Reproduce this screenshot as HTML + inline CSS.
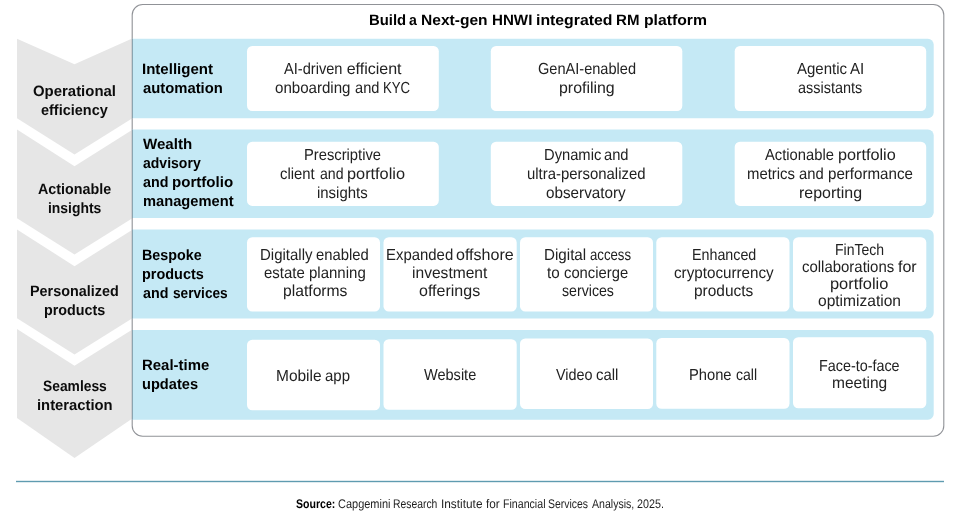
<!DOCTYPE html>
<html lang="en">
<head>
<meta charset="utf-8">
<title>Build a Next-gen HNWI integrated RM platform</title>
<style>
html,body{margin:0;padding:0;background:#fff;}
body{width:960px;height:517px;position:relative;overflow:hidden;font-family:"Liberation Sans",sans-serif;}
svg.bg{position:absolute;left:0;top:0;}
main{position:absolute;left:0;top:0;width:960px;height:517px;will-change:transform;text-rendering:geometricPrecision;}
h1,p{margin:0;font-weight:normal;font-size:inherit;}
.l{position:absolute;white-space:nowrap;line-height:18px;transform-origin:0 13px;}
.b{font-weight:bold;font-size:15px;color:#000;}
.c{color:#0c0c0c;}
.r{font-size:16px;color:#222;}
.s{position:absolute;white-space:nowrap;font-size:12.5px;line-height:14px;color:#1e1e1e;transform-origin:0 11px;}
.sb{font-weight:bold;color:#000;}
</style>
</head>
<body>
<svg class="bg" width="960" height="517" viewBox="0 0 960 517">
<g fill="#e6e6e6"><polygon points="17,38.7 74.5,64.3 131.6,38.7 131.6,118.7 74.5,154.4 17,118.3"/><polygon points="17,129.5 74.5,166.2 131.6,130.3 131.6,218.7 74.5,254.5 17,218.3"/><polygon points="17,229.5 74.5,266.2 131.6,230.3 131.6,318.8 74.5,354.5 17,318.3"/><polygon points="17,328.9 74.5,365.8 131.6,330.0 131.6,418.9 74.5,458.0 17,417.9"/></g>
<rect x="132.2" y="4.45" width="811.6" height="431.85" rx="10.5" ry="10.5" fill="none" stroke="#909297" stroke-width="1.1"/>
<g fill="#c5e9f5">
<path d="M132,38.75 H927.9 a5.8,5.8 0 0 1 5.8,5.8 V112.5 a5.8,5.8 0 0 1 -5.8,5.8 H132 Z"/>
<path d="M132,129.6 H927.9 a5.8,5.8 0 0 1 5.8,5.8 V212.3 a5.8,5.8 0 0 1 -5.8,5.8 H132 Z"/>
<path d="M132,229.4 H927.9 a5.8,5.8 0 0 1 5.8,5.8 V312.8 a5.8,5.8 0 0 1 -5.8,5.8 H132 Z"/>
<path d="M132,330 H927.9 a5.8,5.8 0 0 1 5.8,5.8 V413.9 a5.8,5.8 0 0 1 -5.8,5.8 H132 Z"/>
</g>
<g fill="#768e9a"><rect x="132" y="38.75" width="0.75" height="79.5"/><rect x="132" y="129.6" width="0.75" height="88.5"/><rect x="132" y="229.4" width="0.75" height="89.2"/><rect x="132" y="330" width="0.75" height="89.7"/></g>
<g fill="#fff">
<rect x="247" y="45.9" width="191.8" height="65.1" rx="5.3" ry="5.3"/>
<rect x="490.8" y="45.9" width="191.5" height="65.1" rx="5.3" ry="5.3"/>
<rect x="734.7" y="45.9" width="191.5" height="65.1" rx="5.3" ry="5.3"/>
<rect x="247" y="141.7" width="191.8" height="64.2" rx="5.3" ry="5.3"/>
<rect x="490.8" y="141.7" width="191.5" height="64.2" rx="5.3" ry="5.3"/>
<rect x="734.7" y="141.7" width="191.5" height="64.2" rx="5.3" ry="5.3"/>
<rect x="247" y="237.2" width="133.0" height="74.4" rx="5.3" ry="5.3"/>
<rect x="383.5" y="237.2" width="133.2" height="74.4" rx="5.3" ry="5.3"/>
<rect x="520" y="237.2" width="133.0" height="74.4" rx="5.3" ry="5.3"/>
<rect x="656.3" y="237.2" width="133.2" height="74.4" rx="5.3" ry="5.3"/>
<rect x="793" y="237.2" width="133.3" height="74.4" rx="5.3" ry="5.3"/>
<rect x="247" y="339.8" width="133.0" height="70.4" rx="5.3" ry="5.3"/>
<rect x="383.5" y="339.2" width="133.2" height="70.5" rx="5.3" ry="5.3"/>
<rect x="520" y="338.5" width="133.0" height="70.5" rx="5.3" ry="5.3"/>
<rect x="656.3" y="338" width="133.2" height="70.8" rx="5.3" ry="5.3"/>
<rect x="793" y="337.3" width="133.3" height="70.9" rx="5.3" ry="5.3"/>
</g>
<rect x="16" y="480.8" width="928" height="1.4" fill="#5f9bb0"/>
</svg>
<main>
<h1 class="ttl"><span class="l b" style="left:369.05px;top:12px;transform:scaleX(0.9900)">Build</span> <span class="l b" style="left:409.11px;top:12px;transform:scaleX(0.9400)">a</span> <span class="l b" style="left:421.27px;top:12px;transform:scaleX(1.0372)">Next-gen</span> <span class="l b" style="left:492.43px;top:12px;transform:scaleX(1.0087)">HNWI</span> <span class="l b" style="left:536.06px;top:12px;transform:scaleX(1.0544)">integrated</span> <span class="l b" style="left:616.27px;top:12px;transform:scaleX(1.0043)">RM</span> <span class="l b" style="left:643.65px;top:12px;transform:scaleX(1.0499)">platform</span></h1>
<div class="chevs">
<div class="chev"><div class="l b c" style="left:33.20px;top:83px;transform:scaleX(0.9953)">Operational</div> <div class="l b c" style="left:40.96px;top:102px;transform:scaleX(0.9642)">efficiency</div></div>
<div class="chev"><div class="l b c" style="left:37.79px;top:181px;transform:scaleX(0.9544)">Actionable</div> <div class="l b c" style="left:47.89px;top:200px;transform:scaleX(0.9277)">insights</div></div>
<div class="chev"><div class="l b c" style="left:30.41px;top:283px;transform:scaleX(0.9582)">Personalized</div> <div class="l b c" style="left:43.94px;top:302px;transform:scaleX(0.9551)">products</div></div>
<div class="chev"><div class="l b c" style="left:42.55px;top:378px;transform:scaleX(0.9219)">Seamless</div> <div class="l b c" style="left:36.70px;top:397px;transform:scaleX(0.9864)">interaction</div></div>
</div>
<section class="row">
<div class="lab"><div class="l b" style="left:142.46px;top:61px;transform:scaleX(1.0020)">Intelligent</div> <div class="l b" style="left:143.18px;top:80px;transform:scaleX(0.9877)">automation</div></div>
<div class="box"><div class="ln"><span class="l r" style="left:283.90px;top:61px;transform:scaleX(0.9132)">AI-driven</span> <span class="l r" style="left:346.70px;top:61px;transform:scaleX(1.0000)">efficient</span></div> <div class="ln"><span class="l r" style="left:275.29px;top:80px;transform:scaleX(0.9430)">onboarding</span> <span class="l r" style="left:355.33px;top:80px;transform:scaleX(0.9134)">and</span> <span class="l r" style="left:383.20px;top:80px;transform:scaleX(0.8250)">KYC</span></div></div>
<div class="box"><div class="l r" style="left:537.55px;top:61px;transform:scaleX(0.9105)">GenAI-enabled</div> <div class="l r" style="left:558.70px;top:80px;transform:scaleX(0.9944)">profiling</div></div>
<div class="box"><div class="ln"><span class="l r" style="left:796.93px;top:61px;transform:scaleX(0.9377)">Agentic</span> <span class="l r" style="left:850.12px;top:61px;transform:scaleX(0.9400)">AI</span></div> <div class="l r" style="left:797.82px;top:80px;transform:scaleX(0.9031)">assistants</div></div>
</section>
<section class="row">
<div class="lab"><div class="l b" style="left:143.47px;top:136px;transform:scaleX(1.0047)">Wealth</div> <div class="l b" style="left:143.35px;top:155px;transform:scaleX(0.9348)">advisory</div> <div class="ln"><span class="l b" style="left:143.00px;top:174px;transform:scaleX(0.9531)">and</span> <span class="l b" style="left:171.86px;top:174px;transform:scaleX(1.0053)">portfolio</span></div> <div class="l b" style="left:143.23px;top:193px;transform:scaleX(0.9787)">management</div></div>
<div class="box"><div class="l r" style="left:303.96px;top:147px;transform:scaleX(0.9208)">Prescriptive</div> <div class="ln"><span class="l r" style="left:280.34px;top:166px;transform:scaleX(0.9290)">client</span> <span class="l r" style="left:319.51px;top:166px;transform:scaleX(0.8814)">and</span> <span class="l r" style="left:347.31px;top:166px;transform:scaleX(1.0189)">portfolio</span></div> <div class="l r" style="left:316.93px;top:185px;transform:scaleX(0.9326)">insights</div></div>
<div class="box"><div class="ln"><span class="l r" style="left:544.02px;top:147px;transform:scaleX(0.9203)">Dynamic</span> <span class="l r" style="left:604.29px;top:147px;transform:scaleX(0.9195)">and</span></div> <div class="l r" style="left:527.35px;top:166px;transform:scaleX(0.9320)">ultra-personalized</div> <div class="l r" style="left:546.28px;top:185px;transform:scaleX(0.9527)">observatory</div></div>
<div class="box"><div class="ln"><span class="l r" style="left:765.17px;top:147px;transform:scaleX(0.9218)">Actionable</span> <span class="l r" style="left:838.08px;top:147px;transform:scaleX(1.0139)">portfolio</span></div> <div class="ln"><span class="l r" style="left:747.45px;top:166px;transform:scaleX(0.9304)">metrics</span> <span class="l r" style="left:799.45px;top:166px;transform:scaleX(0.9250)">and</span> <span class="l r" style="left:827.90px;top:166px;transform:scaleX(0.9453)">performance</span></div> <div class="l r" style="left:798.90px;top:185px;transform:scaleX(0.9985)">reporting</div></div>
</section>
<section class="row">
<div class="lab"><div class="l b" style="left:142.46px;top:247px;transform:scaleX(0.9534)">Bespoke</div> <div class="l b" style="left:142.46px;top:266px;transform:scaleX(0.9622)">products</div> <div class="ln"><span class="l b" style="left:143.00px;top:285px;transform:scaleX(0.9531)">and</span> <span class="l b" style="left:172.59px;top:285px;transform:scaleX(0.9105)">services</span></div></div>
<div class="box"><div class="ln"><span class="l r" style="left:260.01px;top:247px;transform:scaleX(0.9366)">Digitally</span> <span class="l r" style="left:315.97px;top:247px;transform:scaleX(0.9270)">enabled</span></div> <div class="ln"><span class="l r" style="left:263.90px;top:265px;transform:scaleX(0.9349)">estate</span> <span class="l r" style="left:308.54px;top:265px;transform:scaleX(0.9376)">planning</span></div> <div class="l r" style="left:282.91px;top:283px;transform:scaleX(0.9796)">platforms</div></div>
<div class="box"><div class="ln"><span class="l r" style="left:385.53px;top:247px;transform:scaleX(0.9321)">Expanded</span> <span class="l r" style="left:456.22px;top:247px;transform:scaleX(1.0035)">offshore</span></div> <div class="l r" style="left:412.19px;top:265px;transform:scaleX(0.9739)">investment</div> <div class="l r" style="left:419.34px;top:283px;transform:scaleX(1.0014)">offerings</div></div>
<div class="box"><div class="ln"><span class="l r" style="left:543.61px;top:247px;transform:scaleX(0.9479)">Digital</span> <span class="l r" style="left:590.40px;top:247px;transform:scaleX(0.8245)">access</span></div> <div class="ln"><span class="l r" style="left:546.91px;top:265px;transform:scaleX(0.9488)">to</span> <span class="l r" style="left:564.22px;top:265px;transform:scaleX(0.9241)">concierge</span></div> <div class="l r" style="left:561.82px;top:283px;transform:scaleX(0.8850)">services</div></div>
<div class="box"><div class="l r" style="left:691.78px;top:247px;transform:scaleX(0.8922)">Enhanced</div> <div class="l r" style="left:673.72px;top:265px;transform:scaleX(0.9503)">cryptocurrency</div> <div class="l r" style="left:694.46px;top:283px;transform:scaleX(0.9652)">products</div></div>
<div class="box"><div class="l r" style="left:834.54px;top:242px;transform:scaleX(0.8756)">FinTech</div> <div class="ln"><span class="l r" style="left:802.02px;top:259px;transform:scaleX(0.9339)">collaborations</span> <span class="l r" style="left:897.89px;top:259px;transform:scaleX(1.0007)">for</span></div> <div class="l r" style="left:830.27px;top:276px;transform:scaleX(1.0250)">portfolio</div> <div class="l r" style="left:818.03px;top:293px;transform:scaleX(0.9720)">optimization</div></div>
</section>
<section class="row">
<div class="lab"><div class="l b" style="left:142.28px;top:357px;transform:scaleX(0.9953)">Real-time</div> <div class="l b" style="left:142.42px;top:376px;transform:scaleX(0.9740)">updates</div></div>
<div class="box"><div class="ln"><span class="l r" style="left:276.27px;top:368px;transform:scaleX(0.9674)">Mobile</span> <span class="l r" style="left:325.22px;top:368px;transform:scaleX(0.9352)">app</span></div></div>
<div class="box"><div class="l r" style="left:423.89px;top:367px;transform:scaleX(0.9081)">Website</div></div>
<div class="box"><div class="ln"><span class="l r" style="left:556.00px;top:367px;transform:scaleX(0.8990)">Video</span> <span class="l r" style="left:595.79px;top:367px;transform:scaleX(0.9350)">call</span></div></div>
<div class="box"><div class="ln"><span class="l r" style="left:688.63px;top:367px;transform:scaleX(0.9195)">Phone</span> <span class="l r" style="left:735.87px;top:367px;transform:scaleX(0.8797)">call</span></div></div>
<div class="box"><div class="l r" style="left:818.84px;top:358px;transform:scaleX(0.8973)">Face-to-face</div> <div class="l r" style="left:832.15px;top:375px;transform:scaleX(0.9684)">meeting</div></div>
</section>
<p class="src"><b class="s sb" style="left:296.48px;top:497px;transform:scaleX(0.8446)">Source:</b> <span class="s sr" style="left:337.54px;top:497px;transform:scaleX(0.8777)">Capgemini</span> <span class="s sr" style="left:392.71px;top:497px;transform:scaleX(0.8286)">Research</span> <span class="s sr" style="left:441.32px;top:497px;transform:scaleX(0.9472)">Institute</span> <span class="s sr" style="left:485.68px;top:497px;transform:scaleX(0.9400)">for</span> <span class="s sr" style="left:503.32px;top:497px;transform:scaleX(0.8494)">Financial</span> <span class="s sr" style="left:548.22px;top:497px;transform:scaleX(0.8349)">Services</span> <span class="s sr" style="left:591.51px;top:497px;transform:scaleX(0.8452)">Analysis,</span> <span class="s sr" style="left:636.97px;top:497px;transform:scaleX(0.8595)">2025.</span></p>
</main>
</body>
</html>
